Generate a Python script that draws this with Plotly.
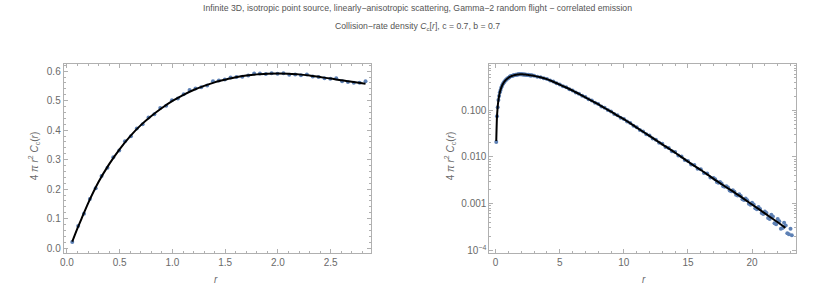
import plotly.graph_objects as go

# ---------------- data ----------------
# smooth analytic curve
r_curve_near = [0.05, 0.1, 0.15, 0.2, 0.3, 0.4, 0.5, 0.6, 0.7, 0.8, 0.9, 1.0, 1.1, 1.2, 1.3,
                1.4, 1.5, 1.6, 1.7, 1.8, 1.9, 2.0, 2.1, 2.2, 2.3, 2.4, 2.5, 2.6, 2.7, 2.83]
c_curve_near = [0.022, 0.068, 0.11, 0.152, 0.225, 0.285, 0.336, 0.38, 0.417, 0.448, 0.475, 0.499,
                0.519, 0.536, 0.55, 0.562, 0.571, 0.579, 0.585, 0.589, 0.591, 0.592, 0.591, 0.589,
                0.585, 0.58, 0.575, 0.569, 0.564, 0.557]
r_curve_far = [3.0, 3.5, 4.0, 4.5, 5.0, 5.5, 6.0, 6.5, 7.0, 7.5, 8.0, 8.5, 9.0, 9.5, 10.0, 11.0,
               12.0, 13.0, 14.0, 15.0, 16.0, 17.0, 18.0, 19.0, 20.0, 21.0, 22.0, 22.6]
c_curve_far = [0.547, 0.510, 0.465, 0.41, 0.356, 0.308, 0.265, 0.224, 0.190, 0.160, 0.135, 0.112,
               0.0933, 0.0771, 0.0646, 0.0427, 0.0282, 0.0186, 0.0123, 0.00794, 0.00525, 0.00339,
               0.00224, 0.00148, 0.000955, 0.000617, 0.000398, 0.000302]

# Monte-Carlo estimates (blue points)
r_pts_near = [0.05, 0.106, 0.161, 0.217, 0.272, 0.328, 0.384, 0.439, 0.495, 0.55, 0.606, 0.662,
              0.717, 0.773, 0.828, 0.884, 0.94, 0.995, 1.051, 1.106, 1.162, 1.218, 1.273, 1.329,
              1.384, 1.44, 1.496, 1.551, 1.607, 1.662, 1.718, 1.774, 1.829, 1.885, 1.94, 1.996,
              2.052, 2.107, 2.163, 2.218, 2.274, 2.33, 2.385, 2.441, 2.496, 2.552, 2.608, 2.663,
              2.719, 2.774, 2.83]
c_pts_near = [0.021, 0.075, 0.117, 0.167, 0.203, 0.245, 0.273, 0.308, 0.331, 0.362, 0.379, 0.406,
              0.420, 0.443, 0.454, 0.475, 0.483, 0.501, 0.507, 0.522, 0.536, 0.541, 0.545, 0.551,
              0.566, 0.568, 0.572, 0.578, 0.580, 0.581, 0.585, 0.592, 0.592, 0.590, 0.593, 0.591,
              0.593, 0.588, 0.589, 0.586, 0.589, 0.582, 0.580, 0.576, 0.574, 0.576, 0.566, 0.563,
              0.561, 0.561, 0.566]
r_pts_far = [3.0, 3.25, 3.5, 3.75, 4.0, 4.25, 4.5, 4.75, 5.0, 5.25, 5.5, 5.75, 6.0, 6.25, 6.5,
             6.75, 7.0, 7.25, 7.5, 7.75, 8.0, 8.25, 8.5, 8.75, 9.0, 9.25, 9.5, 9.75, 10.0, 10.25,
             10.5, 10.75, 11.0, 11.25, 11.5, 11.75, 12.0, 12.25, 12.5, 12.75, 13.0, 13.25, 13.5,
             13.75, 14.0, 14.25, 14.5, 14.75, 15.0, 15.25, 15.5, 15.75, 16.0, 16.25, 16.5, 16.75,
             17.0, 17.25, 17.5, 17.75, 18.0, 18.25, 18.5, 18.75, 19.0, 19.25, 19.5, 19.75, 20.0,
             20.25, 20.5, 20.75, 21.0, 21.25, 21.5, 21.75, 22.0, 22.25, 22.5, 22.75, 23.0,
             17.125, 17.375, 17.625, 17.875, 18.125, 18.375, 18.625, 18.875, 19.125, 19.375,
             19.625, 19.875, 20.125, 20.375, 20.625, 20.875, 21.125, 21.375, 21.625, 21.875,
             22.125, 22.375, 22.625, 22.875, 23.1]
c_pts_far = [0.549, 0.527, 0.513, 0.485, 0.468, 0.436, 0.413, 0.380, 0.359, 0.328, 0.311, 0.283,
             0.267, 0.242, 0.226, 0.205, 0.192, 0.173, 0.162, 0.145, 0.137, 0.121, 0.114, 0.101,
             0.0945, 0.0838, 0.0782, 0.0695, 0.0652, 0.0575, 0.0533, 0.0466, 0.0434, 0.0379,
             0.0353, 0.0307, 0.0288, 0.0249, 0.0234, 0.0202, 0.0191, 0.0163, 0.0155, 0.0132,
             0.0127, 0.0107, 0.0102, 0.00858, 0.00821, 0.00689, 0.00672, 0.00561, 0.00546,
             0.00452, 0.00441, 0.00362, 0.00355, 0.00291, 0.00289, 0.00236, 0.00236, 0.00190,
             0.00194, 0.00155, 0.00159, 0.00124, 0.00128, 0.00099, 0.00104, 0.00079, 0.00084,
             0.00063, 0.00068, 0.00049, 0.00058, 0.00038, 0.00047, 0.00029, 0.00039, 0.00023,
             0.00029,
             0.00331, 0.00281, 0.00270, 0.00229, 0.00221, 0.00184, 0.00180, 0.00150, 0.00146,
             0.00119, 0.00118, 0.00094, 0.00096, 0.00076, 0.00077, 0.00060, 0.00063, 0.00047,
             0.00053, 0.00036, 0.00042, 0.00030, 0.00034, 0.00022, 0.00021]

left_xticks = [0.0, 0.5, 1.0, 1.5, 2.0, 2.5]
left_yticks = [0.0, 0.1, 0.2, 0.3, 0.4, 0.5, 0.6]
right_xticks = [0, 5, 10, 15, 20]
right_yticks = [1e-4, 1e-3, 1e-2, 1e-1]
right_yticktext = ["10<sup>−4</sup>", "0.001", "0.010", "0.100"]

title_line1 = "Infinite 3D, isotropic point source, linearly−anisotropic scattering, Gamma−2 random flight − correlated emission"
title_line2 = "Collision−rate density <i>C</i><sub>c</sub>[<i>r</i>], c = 0.7, b = 0.7"
ylabel = "4 <i>π</i> <i>r</i><sup>2</sup> <i>C</i><sub>c</sub>(<i>r</i>)"
xlabel = "<i>r</i>"

# ---------------- style ----------------
W, H = 830, 306
FONT = "Liberation Sans Narrow, Liberation Sans, Arial, sans-serif"
TXT = "#6a6a6a"
FRAME = "#b0b0b0"
BLUE = "#5E81B5"

fig = go.Figure()
fig.add_trace(go.Scatter(x=r_pts_near, y=c_pts_near, mode="markers",
                         marker=dict(color=BLUE, size=4), xaxis="x", yaxis="y", showlegend=False))
fig.add_trace(go.Scatter(x=r_curve_near, y=c_curve_near, mode="lines",
                         line=dict(color="black", width=2, shape="spline", smoothing=0.8),
                         xaxis="x", yaxis="y", showlegend=False))
fig.add_trace(go.Scatter(x=r_pts_near + r_pts_far, y=c_pts_near + c_pts_far, mode="markers",
                         marker=dict(color=BLUE, size=4), xaxis="x2", yaxis="y2", showlegend=False))
fig.add_trace(go.Scatter(x=r_curve_near + r_curve_far, y=c_curve_near + c_curve_far, mode="lines",
                         line=dict(color="black", width=2, shape="spline", smoothing=0.6),
                         xaxis="x2", yaxis="y2", showlegend=False))

def px_x(v):
    return v / W

def px_y(v):
    return 1 - v / H

common = dict(showline=True, linecolor=FRAME, linewidth=1, mirror="ticks", ticks="inside",
              ticklen=4, tickcolor=FRAME, tickwidth=1, showgrid=False, zeroline=False,
              tickfont=dict(family=FONT, size=10, color=TXT))

fig.update_layout(
    width=W, height=H, margin=dict(l=0, r=0, t=0, b=0),
    paper_bgcolor="white", plot_bgcolor="white",
    font=dict(family=FONT, size=10, color=TXT),
    xaxis=dict(domain=[px_x(60), px_x(369)], range=[-0.031, 2.884], tickvals=left_xticks,
               tickformat=".1f", minor=dict(ticks="inside", ticklen=2, dtick=0.1, tickcolor=FRAME),
               anchor="y", **common),
    yaxis=dict(domain=[px_y(255.3), px_y(64.5)], range=[-0.0156, 0.6246], tickvals=left_yticks,
               tickformat=".1f", minor=dict(ticks="inside", ticklen=2, dtick=0.02, tickcolor=FRAME),
               anchor="x", **common),
    xaxis2=dict(domain=[px_x(487.7), px_x(796)], range=[-0.49, 23.44], tickvals=right_xticks,
                minor=dict(ticks="inside", ticklen=2, dtick=1, tickcolor=FRAME),
                anchor="y2", **common),
    yaxis2=dict(domain=[px_y(255.3), px_y(64.3)], type="log", range=[-4.055, 0.0],
                tickvals=right_yticks, ticktext=right_yticktext,
                minor=dict(ticks="inside", ticklen=2, dtick="D1", tickcolor=FRAME),
                anchor="x2", **common),
)

ann = [
    dict(text=title_line1, x=0.5, y=px_y(8), xref="paper", yref="paper", showarrow=False,
         font=dict(family=FONT, size=8.7, color="#555555"), xanchor="center", yanchor="middle"),
    dict(text=title_line2, x=0.5, y=px_y(27), xref="paper", yref="paper", showarrow=False,
         font=dict(family=FONT, size=8.7, color="#555555"), xanchor="center", yanchor="middle"),
    dict(text=ylabel, x=px_x(30), y=px_y(157), xref="paper", yref="paper", showarrow=False,
         textangle=-90, font=dict(family=FONT, size=10, color=TXT), xanchor="center", yanchor="middle"),
    dict(text=ylabel, x=px_x(448), y=px_y(157), xref="paper", yref="paper", showarrow=False,
         textangle=-90, font=dict(family=FONT, size=10, color=TXT), xanchor="center", yanchor="middle"),
    dict(text=xlabel, x=px_x(213), y=px_y(282), xref="paper", yref="paper", showarrow=False,
         font=dict(family=FONT, size=10, color=TXT), xanchor="center", yanchor="middle"),
    dict(text=xlabel, x=px_x(643), y=px_y(282), xref="paper", yref="paper", showarrow=False,
         font=dict(family=FONT, size=10, color=TXT), xanchor="center", yanchor="middle"),
]
fig.update_layout(annotations=ann)

fig.write_html("out.html", config={"displayModeBar": False},
               post_script="document.body.style.margin='0';document.body.style.overflow='hidden';")
